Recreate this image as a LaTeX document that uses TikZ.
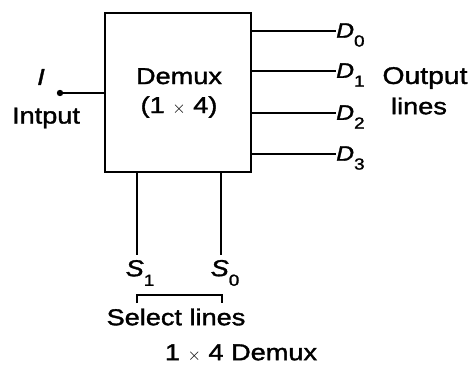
\documentclass[tikz,border=0pt]{standalone}
\usepackage{fontspec}
\setmainfont{Liberation Sans}[FakeStretch=1.18,FakeBold=1.5]
\newcommand{\lbl}[2]{\textit{#1}\raisebox{-0.42em}{\fontsize{16}{16}\selectfont #2}}
\begin{document}
\begin{tikzpicture}[x=1pt,y=-1pt,
  wire/.style={line width=2.4pt},
  txt/.style={inner sep=0pt,font=\fontsize{23}{25}\selectfont},
  dlab/.style={inner sep=0pt,anchor=west,font=\fontsize{21}{23}\selectfont}]
\useasboundingbox (0,0) rectangle (472,368);
\node[draw,line width=2.6pt,minimum width=146pt,minimum height=159pt,inner sep=0pt] (box) at (178,92.5) {};
\node[txt,align=center] (name) at (179,93) {Demux\\[4pt](1 {\fontsize{18}{18}\selectfont$\times$} 4)};
% input
\coordinate (inL) at (60,93);
\fill (inL) circle (3.2pt);
\draw[wire] (inL) -- (inL -| box.west);
\node[txt] (I) at (41,77) {\textit{I}};
\node[txt] (inp) at (46,118) {Intput};
% outputs
\foreach \y/\n in {31/0,71/1,113/2,154/3}{
  \coordinate (o\n) at (336,\y);
  \draw[wire] (o\n -| box.east) -- (o\n);
  \node[dlab] (D\n) at (336,\y+4) {\lbl{D}{\n}};
}
\node[txt,font=\fontsize{24}{26}\selectfont] (out) at (425,78) {Output};
\node[txt] (lines) at (419,106) {lines};
% select lines
\coordinate (s1) at (137,255);
\coordinate (s0) at (221,255);
\draw[wire] (s1 |- box.south) -- (s1);
\draw[wire] (s0 |- box.south) -- (s0);
\node[txt] (S1) at (140,273) {\lbl{S}{1}};
\node[txt] (S0) at (225,273) {\lbl{S}{0}};
\coordinate (b1) at (137,295);
\coordinate (b0) at (222,295);
\draw[line width=1.8pt] ([yshift=-8pt]b1) -- (b1) -- (b0) -- ([yshift=-8pt]b0);
\node[txt] (sel) at (176,317) {Select lines};
\node[txt] (cap) at (241,353) {1 {\fontsize{17}{17}\selectfont$\times$} 4 Demux};
\end{tikzpicture}
\end{document}
